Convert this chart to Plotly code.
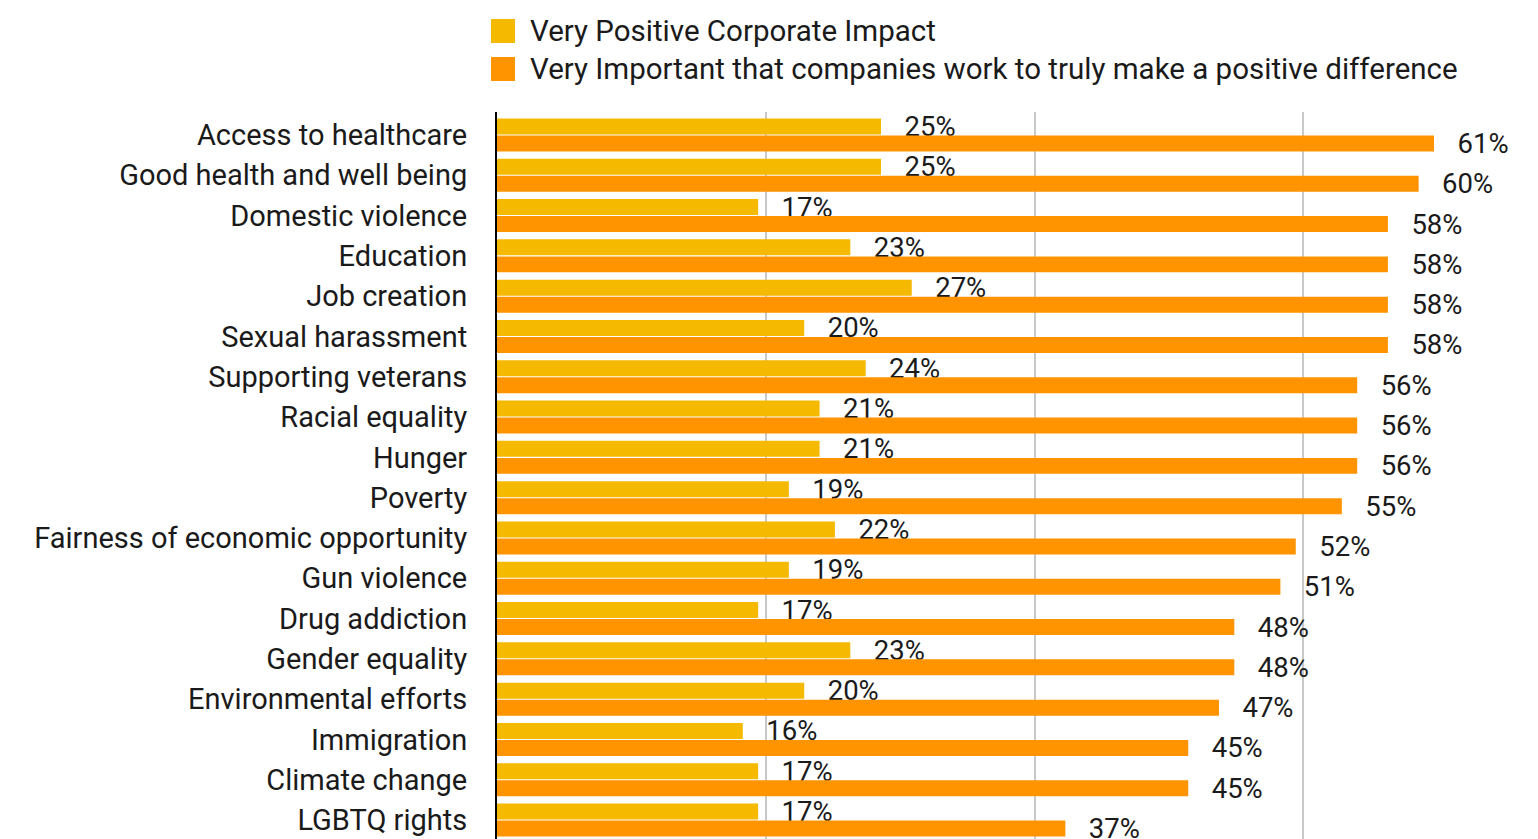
import plotly.graph_objects as go

# Issues, in display order (top to bottom)
issues = [
    "Access to healthcare",
    "Good health and well being",
    "Domestic violence",
    "Education",
    "Job creation",
    "Sexual harassment",
    "Supporting veterans",
    "Racial equality",
    "Hunger",
    "Poverty",
    "Fairness of economic opportunity",
    "Gun violence",
    "Drug addiction",
    "Gender equality",
    "Environmental efforts",
    "Immigration",
    "Climate change",
    "LGBTQ rights",
]

# Share of respondents (%)
very_positive_impact = [25, 25, 17, 23, 27, 20, 24, 21, 21, 19, 22, 19, 17, 23, 20, 16, 17, 17]
very_important = [61, 60, 58, 58, 58, 58, 56, 56, 56, 55, 52, 51, 48, 48, 47, 45, 45, 37]

series_names = [
    "Very Positive Corporate Impact",
    "Very Important that companies work to truly make a positive difference",
]
series_colors = ["#F5B900", "#FF9400"]

FONT = "Roboto"
TEXT_COLOR = "#1a1a1a"
PAD = "\u00a0\u00a0\u00a0"

# Plot-area geometry (pixels) used to place the legend in paper coordinates
PLOT_LEFT, PLOT_TOP, PLOT_W, PLOT_H = 497, 112, 1041, 727


def px_x(x):
    return (x - PLOT_LEFT) / PLOT_W


def px_y(y):
    return 1 + (PLOT_TOP - y) / PLOT_H


fig = go.Figure()
for name, values, color in zip(series_names, [very_positive_impact, very_important], series_colors):
    fig.add_trace(go.Bar(
        y=issues,
        x=values,
        name=name,
        orientation="h",
        marker=dict(color=color, line=dict(width=0)),
        texttemplate=PAD + "%{x}%",
        textposition="outside",
        constraintext="none",
        cliponaxis=False,
        textfont=dict(family=FONT, size=27.5, color=TEXT_COLOR),
        showlegend=False,
    ))

# Legend drawn as swatches with labels above the plot
legend_y = [31, 69]
for name, color, y_px in zip(series_names, series_colors, legend_y):
    fig.add_shape(
        type="rect", xref="paper", yref="paper",
        x0=px_x(491), x1=px_x(515),
        y0=px_y(y_px + 12), y1=px_y(y_px - 12),
        fillcolor=color, line=dict(width=0),
    )
    fig.add_annotation(
        xref="paper", yref="paper",
        x=px_x(528), y=px_y(y_px),
        xanchor="left", yanchor="middle",
        text=name, showarrow=False,
        font=dict(family=FONT, size=29.5, color=TEXT_COLOR),
    )

fig.update_layout(
    width=1538,
    height=839,
    margin=dict(l=PLOT_LEFT, r=0, t=PLOT_TOP, b=0),
    paper_bgcolor="white",
    plot_bgcolor="white",
    barmode="group",
    bargap=0.156,
    bargroupgap=0.06,
    xaxis=dict(
        range=[0, 67.77],
        dtick=17.5,
        showgrid=True,
        gridcolor="#c8c8c8",
        gridwidth=2,
        showticklabels=False,
        zeroline=False,
        showline=False,
        fixedrange=True,
    ),
    yaxis=dict(
        range=[17.47, -0.57],
        showline=True,
        linecolor="#000000",
        linewidth=2,
        showgrid=False,
        ticks="",
        ticklabelstandoff=22,
        tickfont=dict(family=FONT, size=29, color=TEXT_COLOR),
        fixedrange=True,
    ),
)

fig.write_html("out.html")
